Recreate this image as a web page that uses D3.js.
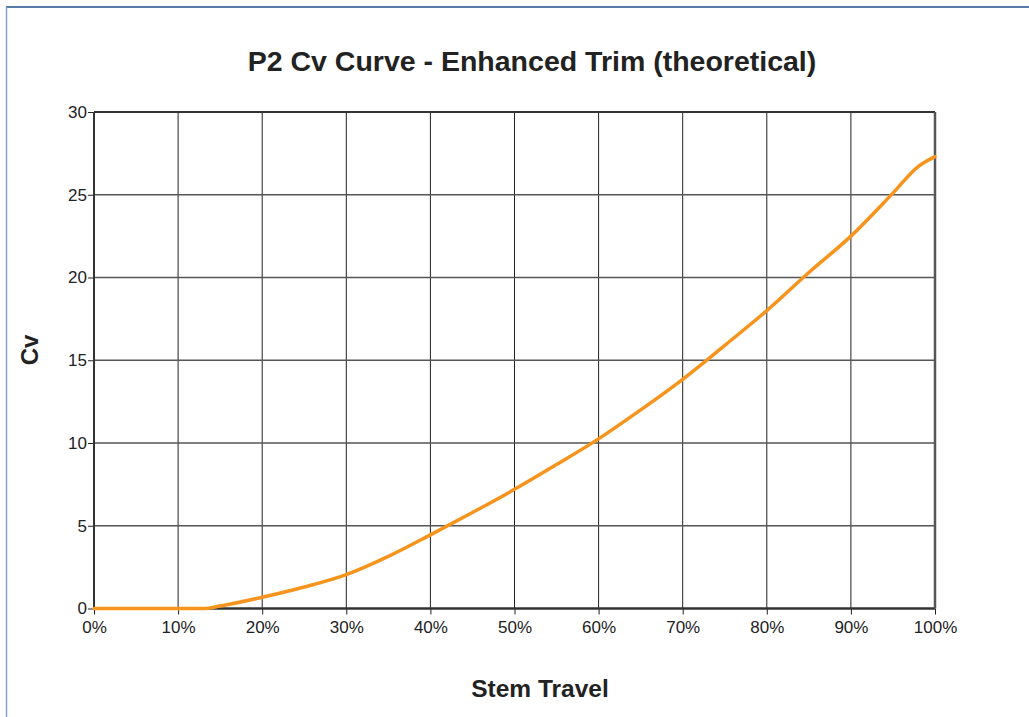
<!DOCTYPE html>
<html><head><meta charset="utf-8">
<script src="https://cdn.jsdelivr.net/npm/d3@7"></script>
<style>
body{margin:0;background:#fff;}
svg{display:block;font-family:"Liberation Sans",Arial,sans-serif;}
</style></head>
<body>
<svg id="c" width="1029" height="717"></svg>
<script>
const travel = [0, 5, 10, 13, 15, 20, 25, 30, 35, 40, 45, 50, 55, 60, 65, 70, 75, 80, 85, 90, 95, 98, 100];
const cv     = [0, 0, 0, 0, 0.15, 0.68, 1.3, 2.05, 3.15, 4.45, 5.8, 7.2, 8.7, 10.25, 12.0, 13.85, 15.9, 18.0, 20.3, 22.5, 25.1, 26.7, 27.3];
const xTicks = [0, 10, 20, 30, 40, 50, 60, 70, 80, 90, 100];
const yTicks = [0, 5, 10, 15, 20, 25, 30];

const svg = d3.select("#c");
const L = 94, R = 935, T = 112, B = 608.5;
const x = d3.scaleLinear().domain([0, 100]).range([L, R]);
const y = d3.scaleLinear().domain([0, 30]).range([B, T]);

// outer frame
svg.append("line").attr("x1",6).attr("x2",1029).attr("y1",7).attr("y2",7).attr("stroke","#1f4e8c").attr("stroke-width",1.5);
svg.append("line").attr("x1",6.5).attr("x2",6.5).attr("y1",7).attr("y2",717).attr("stroke","#80a6d0").attr("stroke-width",1.5);

// grid
svg.append("g").selectAll("line").data(xTicks.slice(1,-1)).join("line")
  .attr("x1",d=>x(d)).attr("x2",d=>x(d)).attr("y1",T).attr("y2",B)
  .attr("stroke","#222").attr("stroke-width",1);
svg.append("g").selectAll("line").data(yTicks.slice(1,-1)).join("line")
  .attr("x1",L).attr("x2",R).attr("y1",d=>y(d)).attr("y2",d=>y(d))
  .attr("stroke","#555").attr("stroke-width",1.3);

// axes
const xa = svg.append("g").attr("transform",`translate(0,${B})`)
  .call(d3.axisBottom(x).tickValues(xTicks).tickFormat(d=>d+"%").tickSize(6).tickPadding(6));
const ya = svg.append("g").attr("transform",`translate(${L},0)`)
  .call(d3.axisLeft(y).tickValues(yTicks).tickSize(6).tickPadding(1));
[xa, ya].forEach(a=>{
  a.select(".domain").remove();
  a.attr("font-size", null).attr("font-family", null);
  a.selectAll(".tick line").attr("stroke","#222");
  a.selectAll("text").attr("fill","#222").style("font-size","17px");
});

// plot frame
svg.append("line").attr("x1",L).attr("x2",R).attr("y1",T).attr("y2",T).attr("stroke","#333").attr("stroke-width",2);
svg.append("line").attr("x1",L).attr("x2",R).attr("y1",B).attr("y2",B).attr("stroke","#333").attr("stroke-width",2.5);
svg.append("line").attr("x1",L).attr("x2",L).attr("y1",T).attr("y2",B).attr("stroke","#333").attr("stroke-width",2);
svg.append("line").attr("x1",R).attr("x2",R).attr("y1",T).attr("y2",B).attr("stroke","#555").attr("stroke-width",2.5);

// curve
const data = travel.map((t,i)=>({t, v:cv[i]}));
svg.append("path").datum(data)
  .attr("d", d3.line().x(d=>x(d.t)).y(d=>y(d.v)).curve(d3.curveMonotoneX))
  .attr("fill","none").attr("stroke","#f7941d").attr("stroke-width",3.5).attr("stroke-linecap","round");

// titles
svg.append("text").attr("x",532).attr("y",71).attr("text-anchor","middle")
  .style("font-size","28.5px").style("font-weight","bold").attr("fill","#222")
  .text("P2 Cv Curve - Enhanced Trim (theoretical)");
svg.append("text").attr("x",540).attr("y",697).attr("text-anchor","middle")
  .style("font-size","24.5px").style("font-weight","bold").attr("fill","#222")
  .text("Stem Travel");
svg.append("text").attr("transform","translate(38,350) rotate(-90)").attr("text-anchor","middle")
  .style("font-size","24px").style("font-weight","bold").attr("fill","#222")
  .text("Cv");
</script>
</body></html>
